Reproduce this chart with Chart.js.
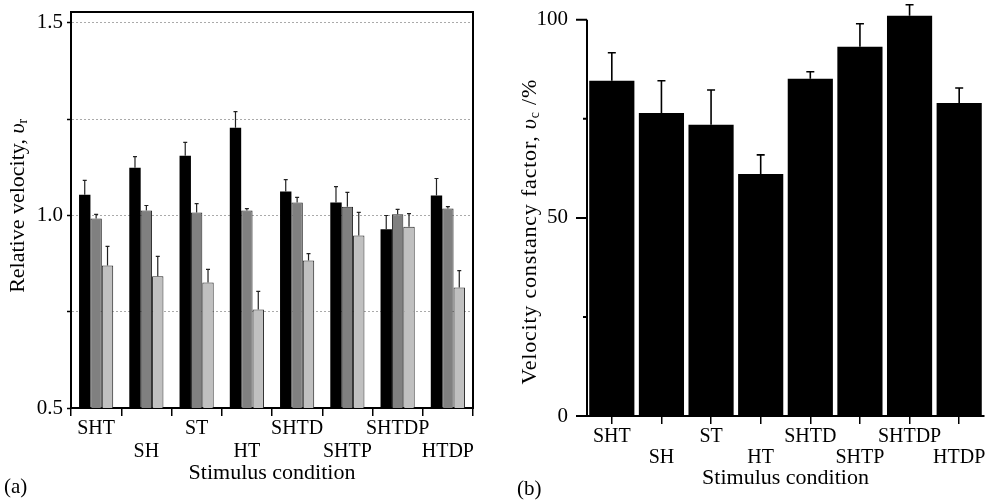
<!DOCTYPE html>
<html>
<head>
<meta charset="utf-8">
<script src="https://cdn.jsdelivr.net/npm/chart.js@4.4.1/dist/chart.umd.min.js"></script>
<style>
  body { margin: 0; background: #fff; }
  #wrapA { position: absolute; left: 0; top: 0; }
  #wrapB { position: absolute; left: 498px; top: 0; }
</style>
</head>
<body>
<div id="wrapA"><canvas id="chartA" width="498" height="502"></canvas></div>
<div id="wrapB"><canvas id="chartB" width="500" height="502"></canvas></div>
<script>
/* ---------- DATA ---------- */
const categories = ["SHT", "SH", "ST", "HT", "SHTD", "SHTP", "SHTDP", "HTDP"];

// panel (a): relative velocity, three series
const velBlack = [1.054, 1.124, 1.155, 1.228, 1.062, 1.034, 0.964, 1.052];
const errBlack = [0.037, 0.029, 0.035, 0.042, 0.031, 0.041, 0.036, 0.044];
const velGray = [0.992, 1.013, 1.008, 1.013, 1.034, 1.023, 1.003, 1.018];
const errGray = [0.011, 0.013, 0.023, 0.005, 0.013, 0.037, 0.013, 0.005];
const velLight = [0.870, 0.842, 0.826, 0.756, 0.883, 0.948, 0.971, 0.813];
const errLight = [0.050, 0.052, 0.034, 0.047, 0.018, 0.060, 0.034, 0.044];
const ticksA = [0.5, 1.0, 1.5];

// panel (b): velocity constancy factor
const constancy = [84.6, 76.5, 73.5, 61.1, 85.1, 93.2, 101.0, 79.0];
const errConstancy = [7.1, 8.1, 8.8, 4.8, 1.8, 5.8, 2.8, 3.8];
const ticksB = [0, 50, 100];

const SERIF = "'Liberation Serif', 'DejaVu Serif', serif";
Chart.defaults.font.family = SERIF;
Chart.defaults.font.size = 20;
Chart.defaults.color = "#000";

// staggered two-row labels
const stagger = categories.map((c, i) => i % 2 === 0 ? [c, ""] : ["", c]);

/* ---------- PLUGINS ---------- */
const errorBars = {
  id: "errorBars",
  afterDatasetsDraw(chart, args, opts) {
    const ctx = chart.ctx;
    const y = chart.scales.y;
    chart.data.datasets.forEach((ds, i) => {
      if (!ds.errors) return;
      const meta = chart.getDatasetMeta(i);
      meta.data.forEach((bar, j) => {
        const top = y.getPixelForValue(ds.data[j] + ds.errors[j]);
        ctx.save();
        ctx.strokeStyle = opts.color;
        ctx.lineWidth = opts.width;
        ctx.beginPath();
        ctx.moveTo(bar.x, bar.y);
        ctx.lineTo(bar.x, top);
        ctx.moveTo(bar.x - opts.cap, top);
        ctx.lineTo(bar.x + opts.cap, top);
        ctx.stroke();
        ctx.restore();
      });
    });
  }
};

// rotated y title with italic symbol + subscript, and panel letter
const panelText = {
  id: "panelText",
  afterDraw(chart, args, opts) {
    const ctx = chart.ctx;
    const y = chart.scales.y;
    const cy = (y.getPixelForValue(opts.titleFrom) + y.getPixelForValue(opts.titleTo)) / 2;
    ctx.save();
    ctx.fillStyle = "#000";
    ctx.letterSpacing = opts.spacing || "0px";
    ctx.translate(opts.titleX, cy);
    ctx.rotate(-Math.PI / 2);
    ctx.textBaseline = "middle";
    let total = 0;
    opts.parts.forEach(p => { ctx.font = p.f; total += ctx.measureText(p.t).width; });
    let cx = -total / 2;
    opts.parts.forEach(p => {
      ctx.font = p.f;
      ctx.fillText(p.t, cx, p.dy || 0);
      cx += ctx.measureText(p.t).width;
    });
    ctx.restore();

    ctx.save();
    ctx.font = "21px " + SERIF;
    ctx.textBaseline = "middle";
    ctx.fillText(opts.letter, opts.letterX, opts.letterY);
    ctx.restore();
  }
};

// top and right frame for panel (a)
const frameA = {
  id: "frameA",
  afterDatasetsDraw(chart) {
    const { ctx, chartArea: a } = chart;
    ctx.save();
    ctx.strokeStyle = "#000";
    ctx.lineWidth = 2;
    ctx.beginPath();
    ctx.moveTo(a.left - 1, a.top);
    ctx.lineTo(a.right, a.top);
    ctx.lineTo(a.right, a.bottom + 1);
    ctx.stroke();
    ctx.restore();
  }
};

// y axis line (0..100) and tick marks for panel (b)
const axisB = {
  id: "axisB",
  afterDatasetsDraw(chart) {
    const { ctx, chartArea: a } = chart;
    const y = chart.scales.y;
    ctx.save();
    ctx.strokeStyle = "#000";
    ctx.lineWidth = 2;
    ctx.beginPath();
    ctx.moveTo(a.left, y.getPixelForValue(0) + 1);
    ctx.lineTo(a.left, y.getPixelForValue(100));
    [0, 25, 50, 75, 100].forEach(v => {
      const py = y.getPixelForValue(v);
      const len = ticksB.includes(v) ? 11 : 4;
      ctx.moveTo(a.left - len, py);
      ctx.lineTo(a.left, py);
    });
    ctx.stroke();
    ctx.restore();
  }
};

function noPad(scale) {
  scale.paddingTop = 0;
  scale.paddingBottom = 0;
  scale.paddingLeft = 0;
  scale.paddingRight = 0;
}

/* ---------- CHART (a) ---------- */
new Chart(document.getElementById("chartA"), {
  type: "bar",
  data: {
    labels: stagger,
    datasets: [
      { data: velBlack, errors: errBlack, backgroundColor: "#000", borderWidth: 0 },
      { data: velGray, errors: errGray, backgroundColor: "#808080", borderColor: "#222", borderWidth: 1 },
      { data: velLight, errors: errLight, backgroundColor: "#c0c0c0", borderColor: "#222", borderWidth: 1 }
    ]
  },
  options: {
    responsive: false,
    animation: false,
    layout: { padding: { top: 12, right: 25, left: 0, bottom: 0 } },
    datasets: { bar: { categoryPercentage: 0.68, barPercentage: 1 } },
    plugins: {
      legend: { display: false },
      tooltip: { enabled: false },
      errorBars: { color: "#222", width: 1.2, cap: 2 },
      panelText: {
        titleX: 18, titleFrom: 0.5, titleTo: 1.55,
        parts: [
          { t: "Relative velocity, ", f: "22px " + SERIF },
          { t: "υ", f: "italic 22px " + SERIF },
          { t: "r", f: "14px " + SERIF, dy: 5 }
        ],
        letter: "(a)", letterX: 4, letterY: 487
      }
    },
    scales: {
      x: {
        grid: { offset: true, drawOnChartArea: false, tickLength: 8, color: "#000", lineWidth: 1.5 },
        border: { color: "#000", width: 2 },
        ticks: { maxRotation: 0, autoSkip: false, padding: 2, font: { size: 20, lineHeight: 1.12 } },
        title: { display: true, text: "Stimulus condition", padding: { top: 0, bottom: 16 }, font: { size: 22 } },
        afterFit(scale) { noPad(scale); scale.height = 94; }
      },
      y: {
        min: 0.5,
        max: 1.5285,
        grid: { color: "#aaaaaa", lineWidth: 1, tickColor: "#000", tickLength: 4, tickWidth: 1.5 },
        border: { color: "#000", width: 2, dash: [2, 2] },
        ticks: {
          stepSize: 0.25,
          includeBounds: false,
          padding: 4,
          font: { size: 21 },
          callback: v => ticksA.some(t => Math.abs(t - v) < 1e-6) ? v.toFixed(1) : ""
        },
        afterFit(scale) { noPad(scale); scale.width = 71; }
      }
    }
  },
  plugins: [errorBars, frameA, panelText]
});

/* ---------- CHART (b) ---------- */
new Chart(document.getElementById("chartB"), {
  type: "bar",
  data: {
    labels: stagger,
    datasets: [
      { data: constancy, errors: errConstancy, backgroundColor: "#000", borderWidth: 0 }
    ]
  },
  options: {
    responsive: false,
    animation: false,
    layout: { padding: { top: 0, right: 14, left: 0, bottom: 0 } },
    datasets: { bar: { categoryPercentage: 0.91, barPercentage: 1 } },
    plugins: {
      legend: { display: false },
      tooltip: { enabled: false },
      errorBars: { color: "#000", width: 1.6, cap: 4 },
      panelText: {
        titleX: 32, titleFrom: 0, titleTo: 93,
        spacing: "0.8px",
        parts: [
          { t: "Velocity constancy factor, ", f: "22px " + SERIF },
          { t: "υ", f: "italic 22px " + SERIF },
          { t: "c", f: "14px " + SERIF, dy: 5 },
          { t: " /%", f: "22px " + SERIF }
        ],
        letter: "(b)", letterX: 19, letterY: 489
      }
    },
    scales: {
      x: {
        grid: { offset: false, drawOnChartArea: false, tickLength: 8, color: "#000", lineWidth: 1.5 },
        border: { color: "#000", width: 2 },
        ticks: { maxRotation: 0, autoSkip: false, padding: 2, font: { size: 20, lineHeight: 1.05 } },
        title: { display: true, text: "Stimulus condition", padding: { top: 0, bottom: 11 }, font: { size: 22 } },
        afterFit(scale) { noPad(scale); scale.height = 86; }
      },
      y: {
        min: 0,
        max: 105,
        grid: { drawOnChartArea: false, color: "rgba(0,0,0,0)", tickLength: 11 },
        border: { display: false },
        ticks: {
          stepSize: 25,
          includeBounds: false,
          padding: 8,
          font: { size: 21 },
          callback: v => ticksB.includes(v) ? String(v) : ""
        },
        afterFit(scale) { noPad(scale); scale.width = 89; }
      }
    }
  },
  plugins: [errorBars, axisB, panelText]
});
</script>
</body>
</html>
